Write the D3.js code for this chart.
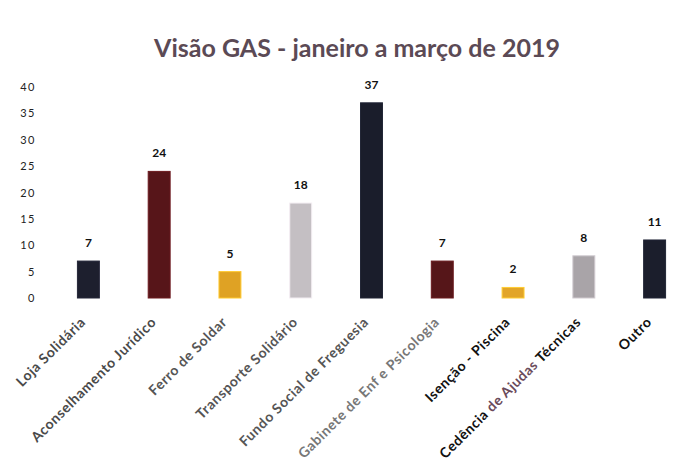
<!doctype html>
<html lang="pt">
  <head>
    <meta charset="utf-8">
    <title>Visão GAS</title>
    <style>
      body { margin: 0; background: #fff; }
      svg { font-family: Lato, "Open Sans", sans-serif; }
    </style>
  </head>
  <body>
    <script src="https://d3js.org/d3.v7.min.js"></script>
    <script>
      var categories = ['Loja Solidária', 'Aconselhamento Jurídico', 'Ferro de Soldar',
        'Transporte Solidário', 'Fundo Social de Freguesia', 'Gabinete de Enf e Psicologia',
        'Isenção - Piscina', 'Cedência de Ajudas Técnicas', 'Outro'];
      var values = [7, 24, 5, 18, 37, 7, 2, 8, 11];
      var barColors = ['#1d1f2e', '#571519', '#dfa224', '#c4bfc3', '#1a1d2b',
        '#561619', '#e2a528', '#a9a4a8', '#1b1e2c'];
      var labelColors = ['#4a4a4a', '#4a4a4a', '#555', '#555', '#555', '#777',
        '#111', '#111', '#111'];
      var yTicks = [0, 5, 10, 15, 20, 25, 30, 35, 40];

      var W = 695, H = 470;
      var svg = d3.select('body').append('svg')
          .attr('width', W)
          .attr('height', H);

      var x = d3.scaleBand()
          .domain(categories)
          .range([53, 690])
          .paddingInner(0.69)
          .paddingOuter(0.345);

      var y = d3.scaleLinear()
          .domain([0, 40])
          .range([298, 87]);

      // title
      svg.append('text')
          .attr('x', 357)
          .attr('y', 57)
          .attr('text-anchor', 'middle')
          .style('font-size', '25px')
          .style('font-weight', 'bold')
          .style('fill', '#5b4a55')
          .text('Visão GAS - janeiro a março de 2019');

      // y axis, labels only
      var yAxis = svg.append('g')
          .attr('transform', 'translate(36,0)')
          .call(d3.axisLeft(y).tickValues(yTicks).tickSize(0).tickPadding(0));
      yAxis.select('.domain').remove();
      yAxis.selectAll('text')
          .style('font-family', 'Lato, sans-serif')
          .style('font-size', '11px')
          .style('letter-spacing', '1.5px')
          .style('fill', '#222');

      // bars
      svg.selectAll('.bar')
        .data(values)
        .enter().append('rect')
          .attr('class', 'bar')
          .attr('x', function(d, i) { return x(categories[i]); })
          .attr('y', function(d) { return y(d); })
          .attr('width', x.bandwidth())
          .attr('height', function(d) { return y(0) - y(d); })
          .style('fill', function(d, i) { return barColors[i]; })
          .style('stroke', function(d, i) { return d3.color(barColors[i]).brighter(0.6); })
          .style('stroke-width', 1);

      // value labels
      svg.selectAll('.val')
        .data(values)
        .enter().append('text')
          .attr('class', 'val')
          .attr('x', function(d, i) { return x(categories[i]) + x.bandwidth() / 2; })
          .attr('y', function(d) { return y(d) - 14; })
          .attr('text-anchor', 'middle')
          .style('font-size', '12px')
          .style('font-weight', 'bold')
          .style('fill', '#111')
          .text(function(d) { return d; });

      // x axis labels, rotated
      var xAxis = svg.append('g')
          .attr('transform', 'translate(0,' + y(0) + ')')
          .call(d3.axisBottom(x).tickSize(0).tickPadding(0));
      xAxis.select('.domain').remove();
      xAxis.selectAll('text')
          .attr('y', 0)
          .attr('dy', 0)
          .attr('text-anchor', 'end')
          .attr('transform', 'translate(-2,25) rotate(-45)')
          .style('font-family', 'Lato, sans-serif')
          .style('font-size', '14px')
          .style('letter-spacing', '0.6px')
          .style('font-weight', 'bold')
          .style('fill', function(d, i) { return labelColors[i]; });

      // the scanned label has a purple middle part
      xAxis.selectAll('text')
        .filter(function(d) { return d === 'Cedência de Ajudas Técnicas'; })
        .text(null)
        .call(function(t) {
          t.append('tspan').text('Cedência ');
          t.append('tspan').style('fill', '#6a4a5a').text('de Ajudas');
          t.append('tspan').text(' Técnicas');
        });
    </script>
  </body>
</html>
